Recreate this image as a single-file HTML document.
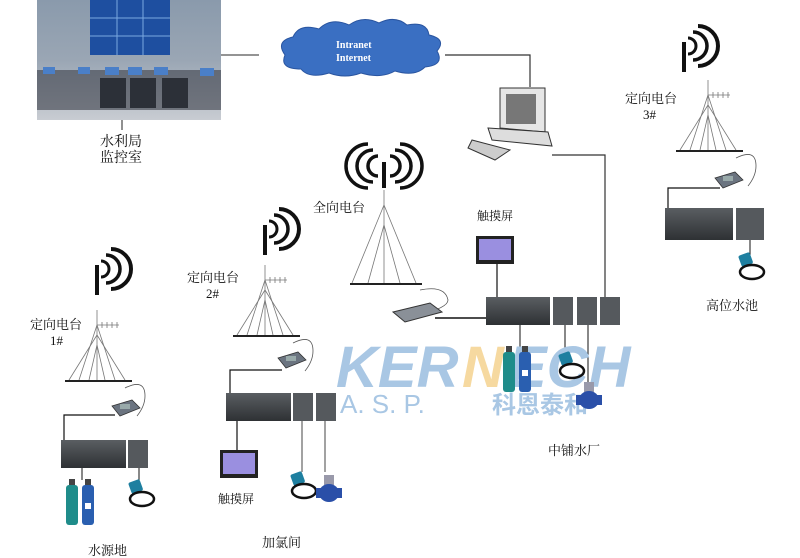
<!DOCTYPE html>
<html><head><meta charset="utf-8"><style>
body{margin:0;background:#fff}
svg{display:block}
text{font-family:"Liberation Serif","Noto Serif CJK SC",serif;fill:#111}
</style></head><body>
<svg width="800" height="558" viewBox="0 0 800 558" xmlns="http://www.w3.org/2000/svg">
<defs>
<linearGradient id="room" x1="0" y1="0" x2="0" y2="1"><stop offset="0" stop-color="#8a9aac"/><stop offset="0.5" stop-color="#9aa6b4"/><stop offset="1" stop-color="#c8ccd2"/></linearGradient>
<linearGradient id="plc" x1="0" y1="0" x2="0" y2="1"><stop offset="0" stop-color="#5a5e62"/><stop offset="1" stop-color="#2e3134"/></linearGradient>
<g id="waves"><rect x="-2" y="0" width="4" height="30" fill="#111"/><path d="M4,-4 a8,8 0 0 1 0,16" stroke="#111" stroke-width="3" fill="none"/><path d="M9,-10 a14,14 0 0 1 0,28" stroke="#111" stroke-width="3.5" fill="none"/><path d="M14,-16 a20,20 0 0 1 0,40" stroke="#111" stroke-width="4" fill="none"/></g>
<g id="omni"><path d="M-6,-4 a10,10 0 0 0 0,20 M6,-4 a10,10 0 0 1 0,20 M-11,-10 a16,16 0 0 0 0,32 M11,-10 a16,16 0 0 1 0,32 M-16,-16 a22,22 0 0 0 0,44 M16,-16 a22,22 0 0 1 0,44" stroke="#111" stroke-width="3.5" fill="none"/><rect x="-2" y="2" width="4" height="26" fill="#111"/></g>
<g id="tower" stroke="#777" stroke-width="0.8" fill="none"><line x1="0" y1="0" x2="0" y2="70"/><line x1="0" y1="25" x2="-28" y2="70"/><line x1="0" y1="25" x2="28" y2="70"/><line x1="0" y1="15" x2="-18" y2="70"/><line x1="0" y1="15" x2="18" y2="70"/><line x1="0" y1="35" x2="-8" y2="70"/><line x1="0" y1="35" x2="8" y2="70"/><line x1="0" y1="15" x2="22" y2="15"/><line x1="5" y1="12" x2="5" y2="18"/><line x1="10" y1="12" x2="10" y2="18"/><line x1="15" y1="12" x2="15" y2="18"/><line x1="20" y1="12" x2="20" y2="18"/><line x1="-32" y1="71" x2="35" y2="71" stroke="#222" stroke-width="2"/><path d="M28,78 q20,-10 20,8 q0,10 -8,20" stroke="#555"/></g>
<g id="modem"><polygon points="0,6 20,0 28,8 8,16" fill="#6b7480" stroke="#333" stroke-width="0.8"/><rect x="8" y="4" width="10" height="5" fill="#9aa" /></g>
<g id="pump"><rect x="0" y="0" width="12" height="40" rx="3" fill="#1f8c8a"/><rect x="3" y="-6" width="6" height="6" fill="#444"/><rect x="16" y="0" width="12" height="40" rx="3" fill="#2a5fb0"/><rect x="19" y="-6" width="6" height="6" fill="#444"/><rect x="19" y="18" width="6" height="6" fill="#fff"/></g>
<g id="sensor"><rect x="0" y="0" width="12" height="12" rx="2" fill="#1e7fa0" transform="rotate(-20)"/><ellipse cx="14" cy="16" rx="12" ry="7" stroke="#111" stroke-width="2.5" fill="none"/></g>
<g id="flow"><rect x="-2" y="-10" width="10" height="10" fill="#99a"/><ellipse cx="3" cy="8" rx="10" ry="9" fill="#2a4fa8"/><rect x="-10" y="3" width="26" height="10" fill="#2a4fa8"/></g>
<g id="screen"><rect x="0" y="0" width="38" height="28" fill="#222"/><rect x="3" y="3" width="32" height="21" fill="#9a8fe0"/></g>
</defs>

<!-- control room -->
<rect x="37" y="0" width="184" height="120" fill="url(#room)"/>
<rect x="90" y="0" width="80" height="55" fill="#1e4fa0"/>
<g stroke="#7aa8e0" stroke-width="1"><line x1="117" y1="0" x2="117" y2="55"/><line x1="143" y1="0" x2="143" y2="55"/><line x1="90" y1="18" x2="170" y2="18"/><line x1="90" y1="36" x2="170" y2="36"/></g>
<rect x="37" y="70" width="184" height="40" fill="#3a3e48" opacity="0.6"/>
<g fill="#2c3038"><rect x="100" y="78" width="26" height="30"/><rect x="130" y="78" width="26" height="30"/><rect x="162" y="78" width="26" height="30"/></g>
<g fill="#4a7fc8"><rect x="105" y="67" width="14" height="8"/><rect x="128" y="67" width="14" height="8"/><rect x="154" y="67" width="14" height="8"/><rect x="43" y="67" width="12" height="7"/><rect x="78" y="67" width="12" height="7"/><rect x="200" y="68" width="14" height="8"/></g>
<line x1="122" y1="120" x2="122" y2="130" stroke="#222"/>
<text x="100" y="146" font-size="14">水利局</text>
<text x="100" y="162" font-size="14">监控室</text>
<line x1="221" y1="55" x2="259" y2="55" stroke="#555" stroke-width="1.2"/>

<!-- cloud -->
<path d="M285,55 q-10,-14 8,-18 q6,-14 26,-8 q12,-12 30,-4 q14,-10 30,-2 q16,-8 28,2 q20,-4 22,10 q18,4 8,16 q8,14 -12,16 q-10,10 -30,4 q-14,8 -34,2 q-16,6 -32,0 q-20,6 -28,-4 q-22,0 -16,-14z" fill="#3a6fc2" stroke="#2a55a0"/>
<text x="336" y="48" font-size="10" font-weight="bold" style="fill:#fff">Intranet</text>
<text x="336" y="61" font-size="10" font-weight="bold" style="fill:#fff">Internet</text>
<polyline points="445,55 530,55 530,87" fill="none" stroke="#333" stroke-width="1.2"/>

<!-- computer -->
<polygon points="500,88 545,88 545,132 500,128" fill="#e6e6e6" stroke="#333"/>
<rect x="506" y="94" width="30" height="30" fill="#777"/>
<polygon points="488,128 548,132 552,146 492,140" fill="#ddd" stroke="#333"/>
<polygon points="472,140 510,150 495,160 468,148" fill="#ccc" stroke="#333"/>
<polyline points="552,155 605,155 605,297" fill="none" stroke="#333" stroke-width="1.2"/>

<!-- center omni -->
<use href="#omni" x="384" y="160"/>
<text x="313" y="212" font-size="13">全向电台</text>
<g stroke="#777" stroke-width="0.8" fill="none"><line x1="384" y1="190" x2="384" y2="283"/><line x1="384" y1="205" x2="352" y2="283"/><line x1="384" y1="205" x2="416" y2="283"/><line x1="384" y1="225" x2="368" y2="283"/><line x1="384" y1="225" x2="400" y2="283"/><line x1="350" y1="284" x2="422" y2="284" stroke="#222" stroke-width="2"/><path d="M420,290 q25,-5 28,10 q0,8 -30,15" stroke="#555"/></g>
<polygon points="393,312 430,303 442,312 405,322" fill="#8a9098" stroke="#333"/>
<line x1="435" y1="318" x2="487" y2="318" stroke="#111" stroke-width="1.5"/>
<text x="477" y="220" font-size="12">触摸屏</text>
<use href="#screen" x="476" y="236"/>
<line x1="497" y1="264" x2="497" y2="297" stroke="#111" stroke-width="1.2"/>
<rect x="486" y="297" width="64" height="28" fill="url(#plc)"/>
<rect x="553" y="297" width="20" height="28" fill="#55595d"/>
<rect x="577" y="297" width="20" height="28" fill="#55595d"/>
<rect x="600" y="297" width="20" height="28" fill="#55595d"/>
<line x1="520" y1="325" x2="520" y2="348" stroke="#111"/>
<line x1="565" y1="325" x2="565" y2="355" stroke="#111"/>
<line x1="588" y1="325" x2="588" y2="390" stroke="#111"/>

<!-- watermark -->
<text x="336" y="387" font-size="58" font-weight="bold" font-style="italic" style="fill:#a9c7e4;font-family:'Liberation Sans',sans-serif">KER</text>
<text x="462" y="387" font-size="58" font-weight="bold" font-style="italic" style="fill:#f6d9a0;font-family:'Liberation Sans',sans-serif">N</text>
<text x="508" y="387" font-size="58" font-weight="bold" font-style="italic" style="fill:#a9c7e4;font-family:'Liberation Sans',sans-serif">ECH</text>
<text x="340" y="413" font-size="26" style="fill:#a9c7e4;font-family:'Liberation Sans',sans-serif">A. S. P.</text>
<text x="492" y="413" font-size="24" font-weight="bold" style="fill:#a9c7e4;font-family:'Liberation Sans','Noto Sans CJK SC',sans-serif">科恩泰和</text>

<use href="#pump" x="503" y="352"/>
<use href="#sensor" x="558" y="355"/>
<use href="#flow" x="586" y="392"/>
<text x="548" y="455" font-size="13">中铺水厂</text>

<!-- right station 3# -->
<use href="#waves" x="684" y="42"/>
<text x="625" y="103" font-size="13">定向电台</text>
<text x="643" y="119" font-size="13">3#</text>
<use href="#tower" x="708" y="80"/>
<use href="#modem" x="715" y="172"/>
<polyline points="720,188 668,188 668,210" fill="none" stroke="#111" stroke-width="1.2"/>
<rect x="665" y="208" width="68" height="32" fill="url(#plc)"/>
<rect x="736" y="208" width="28" height="32" fill="#55595d"/>
<line x1="750" y1="240" x2="750" y2="255" stroke="#111"/>
<use href="#sensor" x="738" y="256"/>
<text x="706" y="310" font-size="13">高位水池</text>

<!-- station 2# -->
<use href="#waves" x="265" y="225"/>
<text x="187" y="282" font-size="13">定向电台</text>
<text x="206" y="298" font-size="13">2#</text>
<use href="#tower" x="265" y="265"/>
<use href="#modem" x="278" y="352"/>
<polyline points="282,370 230,370 230,395" fill="none" stroke="#111" stroke-width="1.2"/>
<rect x="226" y="393" width="65" height="28" fill="url(#plc)"/>
<rect x="293" y="393" width="20" height="28" fill="#55595d"/>
<rect x="316" y="393" width="20" height="28" fill="#55595d"/>
<line x1="237" y1="421" x2="237" y2="450" stroke="#111" stroke-width="1.2"/>
<use href="#screen" x="220" y="450"/>
<text x="218" y="503" font-size="12">触摸屏</text>
<line x1="302" y1="421" x2="302" y2="472" stroke="#444"/>
<line x1="325" y1="421" x2="325" y2="472" stroke="#444"/>
<use href="#sensor" x="290" y="475"/>
<use href="#flow" x="326" y="485"/>
<text x="262" y="547" font-size="13">加氯间</text>

<!-- station 1# -->
<use href="#waves" x="97" y="265"/>
<text x="30" y="329" font-size="13">定向电台</text>
<text x="50" y="345" font-size="13">1#</text>
<use href="#tower" x="97" y="310"/>
<use href="#modem" x="112" y="400"/>
<polyline points="115,415 64,415 64,442" fill="none" stroke="#111" stroke-width="1.2"/>
<rect x="61" y="440" width="65" height="28" fill="url(#plc)"/>
<rect x="128" y="440" width="20" height="28" fill="#55595d"/>
<line x1="82" y1="468" x2="82" y2="480" stroke="#111"/>
<line x1="139" y1="468" x2="139" y2="480" stroke="#111"/>
<use href="#pump" x="66" y="485"/>
<use href="#sensor" x="128" y="483"/>
<text x="88" y="555" font-size="13">水源地</text>
</svg>
</body></html>
